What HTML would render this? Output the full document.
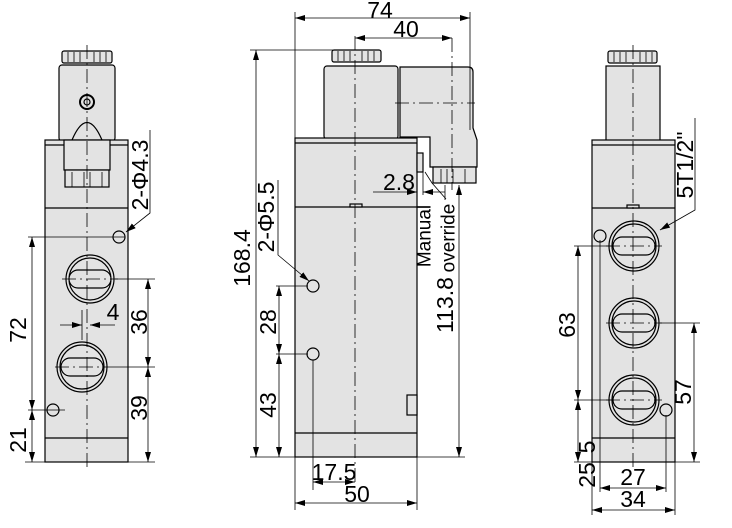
<!DOCTYPE html>
<html><head><meta charset="utf-8"><style>
html,body{margin:0;padding:0;background:#fff;}
svg{display:block;}
text{font-family:"Liberation Sans",sans-serif;fill:#000;}
.r{dominant-baseline:central;text-anchor:middle;}
</style></head><body>
<svg width="732" height="528" viewBox="0 0 732 528" xmlns="http://www.w3.org/2000/svg">
<defs>
<marker id="a" viewBox="0 0 10 6" refX="10" refY="3" markerWidth="10" markerHeight="6" orient="auto-start-reverse" markerUnits="userSpaceOnUse"><path d="M0,0 L10,3 L0,6 z" fill="#000"/></marker>
</defs>
<g stroke="#000" stroke-width="1.2" fill="#e3e3e3">
<!-- LEFT VIEW -->
<rect x="62" y="51" width="50" height="12" rx="2"/>
<g stroke-width="0.8"><line x1="68" y1="52" x2="68" y2="62"/><line x1="74" y1="52" x2="74" y2="62"/><line x1="80" y1="52" x2="80" y2="62"/><line x1="94" y1="52" x2="94" y2="62"/><line x1="100" y1="52" x2="100" y2="62"/><line x1="106" y1="52" x2="106" y2="62"/></g>
<rect x="59" y="65" width="56" height="76" rx="3"/>
<circle cx="87" cy="102" r="7" stroke-width="2"/><circle cx="87" cy="102" r="3"/>
<path d="M72,140 Q87,105 102,140" fill="none"/>
<rect x="45" y="140" width="83" height="322" />
<line x1="45" y1="145" x2="128" y2="145"/>
<line x1="45" y1="208" x2="128" y2="208"/>
<line x1="45" y1="438" x2="128" y2="438"/>
<rect x="64" y="140" width="46" height="30"/>
<rect x="65" y="170" width="44" height="17"/>
<g stroke-width="0.8"><line x1="72" y1="172" x2="72" y2="187"/><line x1="84" y1="172" x2="84" y2="187"/><line x1="90" y1="172" x2="90" y2="187"/><line x1="102" y1="172" x2="102" y2="187"/></g>
<circle cx="119" cy="237" r="6"/>
<circle cx="53" cy="410" r="6"/>
<circle cx="90" cy="279" r="24" /><circle cx="90" cy="279" r="21"/>
<rect x="69" y="270" width="42" height="18" rx="9"/>
<circle cx="82" cy="367" r="25"/><circle cx="82" cy="367" r="22"/>
<rect x="61" y="358" width="42" height="18" rx="9"/>

<!-- MIDDLE VIEW -->
<rect x="332" y="50" width="49" height="12" rx="2"/>
<g stroke-width="0.8"><line x1="338" y1="51" x2="338" y2="61"/><line x1="344" y1="51" x2="344" y2="61"/><line x1="350" y1="51" x2="350" y2="61"/><line x1="362" y1="51" x2="362" y2="61"/><line x1="368" y1="51" x2="368" y2="61"/><line x1="374" y1="51" x2="374" y2="61"/></g>
<rect x="324" y="66" width="74" height="73" rx="3"/>
<path d="M400,67 H468 Q473,67 473,72 V128 L477,140 V167 H430 V137 H400 Z"/>
<rect x="433" y="167" width="43" height="16"/>
<g stroke-width="0.8"><line x1="441" y1="169" x2="441" y2="183"/><line x1="447" y1="169" x2="447" y2="183"/><line x1="453" y1="169" x2="453" y2="183"/><line x1="465" y1="169" x2="465" y2="183"/></g>
<rect x="295" y="138" width="122" height="319"/>
<line x1="295" y1="143" x2="417" y2="143"/>
<line x1="295" y1="207" x2="417" y2="207"/>
<line x1="295" y1="433" x2="417" y2="433"/>
<rect x="350" y="204" width="12" height="3" />
<rect x="417" y="153" width="6" height="19"/>
<rect x="407" y="395" width="10" height="20"/>
<circle cx="313" cy="286" r="6"/>
<circle cx="313" cy="354" r="6"/>

<!-- RIGHT VIEW -->
<rect x="608" y="51" width="49" height="12" rx="2"/>
<g stroke-width="0.8"><line x1="614" y1="52" x2="614" y2="62"/><line x1="620" y1="52" x2="620" y2="62"/><line x1="626" y1="52" x2="626" y2="62"/><line x1="640" y1="52" x2="640" y2="62"/><line x1="646" y1="52" x2="646" y2="62"/><line x1="652" y1="52" x2="652" y2="62"/></g>
<rect x="606" y="66" width="54" height="75"/>
<rect x="592" y="140" width="83" height="322"/>
<line x1="592" y1="145" x2="675" y2="145"/>
<line x1="592" y1="208" x2="675" y2="208"/>
<line x1="592" y1="438" x2="675" y2="438"/>
<rect x="627" y="205" width="12" height="3"/>
<circle cx="634" cy="246" r="25"/><circle cx="634" cy="246" r="22"/>
<rect x="613" y="237" width="42" height="18" rx="9"/>
<circle cx="634" cy="323" r="25"/><circle cx="634" cy="323" r="22"/>
<rect x="613" y="314" width="42" height="18" rx="9"/>
<circle cx="634" cy="400" r="25"/><circle cx="634" cy="400" r="22"/>
<rect x="613" y="391" width="42" height="18" rx="9"/>
<circle cx="600" cy="236" r="6"/>
<circle cx="666" cy="410" r="6"/>
</g>

<!-- center lines -->
<g stroke="#000" stroke-width="0.8" fill="none" stroke-dasharray="14,4,2,4">
<line x1="87" y1="45" x2="87" y2="470"/>
<line x1="355" y1="36" x2="355" y2="490"/>
<line x1="633" y1="45" x2="633" y2="470"/>
<line x1="395" y1="103" x2="475" y2="103"/>
<line x1="452" y1="38" x2="452" y2="190"/>
<line x1="62" y1="279" x2="118" y2="279"/>
<line x1="55" y1="367" x2="110" y2="367"/>
<line x1="606" y1="246" x2="662" y2="246"/>
<line x1="606" y1="323" x2="662" y2="323"/>
<line x1="606" y1="400" x2="662" y2="400"/>
</g>

<!-- dimension lines -->
<g stroke="#000" stroke-width="0.8" fill="none">
<line x1="28" y1="237" x2="125" y2="237"/>
<line x1="28" y1="410" x2="65" y2="410"/>
<line x1="25" y1="462" x2="155" y2="462"/>
<line x1="32" y1="237" x2="32" y2="410" marker-start="url(#a)" marker-end="url(#a)"/>
<line x1="32" y1="410" x2="32" y2="462" marker-start="url(#a)" marker-end="url(#a)"/>
<line x1="115" y1="279" x2="155" y2="279"/>
<line x1="110" y1="367" x2="155" y2="367"/>
<line x1="148" y1="279" x2="148" y2="367" marker-start="url(#a)" marker-end="url(#a)"/>
<line x1="148" y1="367" x2="148" y2="462" marker-start="url(#a)" marker-end="url(#a)"/>
<line x1="82" y1="310" x2="82" y2="340"/>
<line x1="60" y1="325" x2="82" y2="325" marker-end="url(#a)"/>
<line x1="115" y1="325" x2="90" y2="325" marker-end="url(#a)"/>
<polyline points="150,130 150,213 126,232" marker-end="url(#a)"/>
<line x1="295" y1="12" x2="295" y2="138"/>
<line x1="470" y1="12" x2="470" y2="130"/>
<line x1="295" y1="18" x2="470" y2="18" marker-start="url(#a)" marker-end="url(#a)"/>
<line x1="355" y1="38" x2="452" y2="38" marker-start="url(#a)" marker-end="url(#a)"/>
<line x1="250" y1="50" x2="340" y2="50"/>
<line x1="250" y1="457" x2="465" y2="457"/>
<line x1="256" y1="50" x2="256" y2="457" marker-start="url(#a)" marker-end="url(#a)"/>
<line x1="276" y1="286" x2="308" y2="286"/>
<line x1="276" y1="354" x2="308" y2="354"/>
<line x1="279" y1="286" x2="279" y2="354" marker-start="url(#a)" marker-end="url(#a)"/>
<line x1="279" y1="354" x2="279" y2="457" marker-start="url(#a)" marker-end="url(#a)"/>
<polyline points="278,180 278,255 309,281" marker-end="url(#a)"/>
<line x1="459" y1="185" x2="459" y2="457" marker-start="url(#a)" marker-end="url(#a)"/>
<line x1="423" y1="172" x2="423" y2="195"/>
<line x1="373" y1="192" x2="417" y2="192" marker-end="url(#a)"/>
<line x1="445" y1="192" x2="423" y2="192" marker-end="url(#a)"/>
<line x1="445" y1="185" x2="445" y2="200"/>
<polyline points="446,199 432,183 425,172"/>
<line x1="313" y1="360" x2="313" y2="490"/>
<line x1="295" y1="457" x2="295" y2="510"/>
<line x1="417" y1="457" x2="417" y2="510"/>
<line x1="313" y1="482" x2="355" y2="482" marker-start="url(#a)" marker-end="url(#a)"/>
<line x1="295" y1="503" x2="417" y2="503" marker-start="url(#a)" marker-end="url(#a)"/>
<line x1="574" y1="246" x2="612" y2="246"/>
<line x1="574" y1="400" x2="612" y2="400"/>
<line x1="578" y1="246" x2="578" y2="400" marker-start="url(#a)" marker-end="url(#a)"/>
<line x1="578" y1="400" x2="578" y2="462" marker-start="url(#a)" marker-end="url(#a)"/>
<line x1="574" y1="462" x2="700" y2="462"/>
<line x1="660" y1="323" x2="700" y2="323"/>
<line x1="694" y1="323" x2="694" y2="462" marker-start="url(#a)" marker-end="url(#a)"/>
<polyline points="695,118 695,210 660,230" marker-end="url(#a)"/>
<line x1="600" y1="240" x2="600" y2="492"/>
<line x1="666" y1="415" x2="666" y2="492"/>
<line x1="592" y1="462" x2="592" y2="515"/>
<line x1="675" y1="462" x2="675" y2="515"/>
<line x1="600" y1="488" x2="666" y2="488" marker-start="url(#a)" marker-end="url(#a)"/>
<line x1="592" y1="510" x2="675" y2="510" marker-start="url(#a)" marker-end="url(#a)"/>
</g>

<!-- labels -->
<g font-size="23">
<text class="r" x="18" y="330" transform="rotate(-90 18 330)">72</text>
<text class="r" x="18" y="440" transform="rotate(-90 18 440)">21</text>
<text class="r" x="139" y="322" transform="rotate(-90 139 322)">36</text>
<text class="r" x="139" y="408" transform="rotate(-90 139 408)">39</text>
<text class="r" x="140" y="175" transform="rotate(-90 140 175)">2-Φ4.3</text>
<text class="r" x="242" y="258" transform="rotate(-90 242 258)">168.4</text>
<text class="r" x="266" y="217" transform="rotate(-90 266 217)">2-Φ5.5</text>
<text class="r" x="268" y="322" transform="rotate(-90 268 322)">28</text>
<text class="r" x="268" y="405" transform="rotate(-90 268 405)">43</text>
<text class="r" x="445" y="305" transform="rotate(-90 445 305)">113.8</text>
<text class="r" x="567" y="325" transform="rotate(-90 567 325)">63</text>
<text class="r" x="683" y="392" transform="rotate(-90 683 392)">57</text>
<text class="r" x="685" y="165" transform="rotate(-90 685 165)">5T1/2"</text>
<text class="r" x="587" y="475" transform="rotate(-90 587 475)">25</text>
<text class="r" x="587" y="447" transform="rotate(-90 587 447)">5</text>
<text x="113" y="320" text-anchor="middle">4</text>
<text x="380" y="18" text-anchor="middle">74</text>
<text x="406" y="37" text-anchor="middle">40</text>
<text x="399" y="190" text-anchor="middle">2.8</text>
<text x="334" y="480" text-anchor="middle">17.5</text>
<text x="357" y="502" text-anchor="middle">50</text>
<text x="633" y="485" text-anchor="middle">27</text>
<text x="633" y="507" text-anchor="middle">34</text>
</g>
<g font-size="19">
<text class="r" x="425" y="236" transform="rotate(-90 425 236)">Manual</text>
<text class="r" x="449" y="238" transform="rotate(-90 449 238)">override</text>
</g>
</svg>
</body></html>
